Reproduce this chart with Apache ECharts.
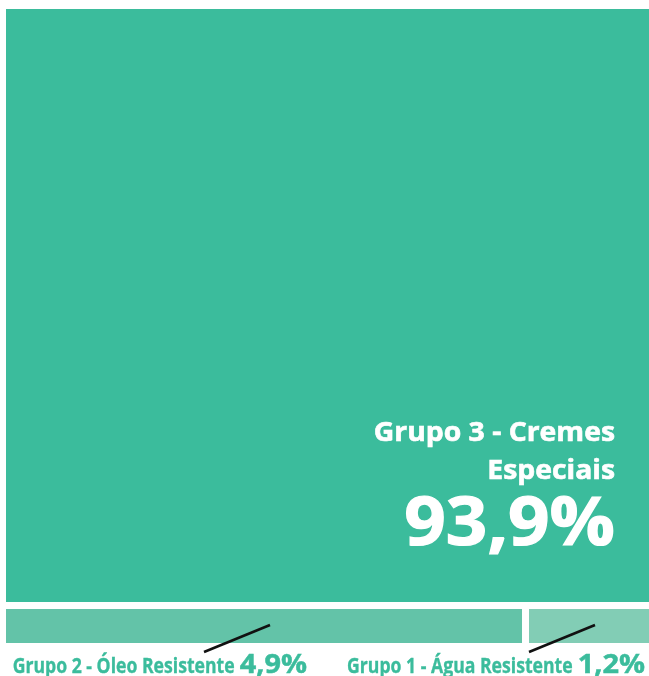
<!DOCTYPE html>
<html>
<head>
<meta charset="utf-8">
<script src="https://cdn.jsdelivr.net/npm/echarts@6/dist/echarts.min.js"></script>
<style>
  html, body { margin: 0; padding: 0; background: #ffffff; }
  #chart { width: 649px; height: 676px; }
</style>
</head>
<body>
<div id="chart"></div>
<script>
// Share of each product group (%)
const groupNames = ['Grupo 3 - Cremes\nEspeciais', 'Grupo 2 - Óleo Resistente', 'Grupo 1 - Água Resistente'];
const groupShares = [93.9, 4.9, 1.2];
const shareLabels = ['93,9%', '4,9%', '1,2%'];

const fills = ['#3bbc9c', '#63c3a8', '#82cdb5'];
const labelGreen = '#3bbc9c';
const FONT = '"Open Sans", "Noto Sans", sans-serif';

// Main group takes the upper band; the two minor groups split the bottom strip
const minorTotal = groupShares[1] + groupShares[2];
const splitX = groupShares[1] / minorTotal * 100;
const blocks = [
  [0, 100, minorTotal, 100, 0],
  [0, splitX, 0, minorTotal, 1],
  [splitX, 100, 0, minorTotal, 2]
];

const measureCtx = document.createElement('canvas').getContext('2d');
function textWidth(str, font) {
  measureCtx.font = font;
  return measureCtx.measureText(str).width;
}

// Right-aligned text anchored at (x, y), optionally stretched around the anchor
function label(str, x, y, font, fill, sx, sy, weightStroke) {
  return {
    type: 'text',
    x: x, y: y,
    scaleX: sx, scaleY: sy,
    style: {
      text: str, x: 0, y: 0, align: 'right', verticalAlign: 'middle', fill: fill, font: font,
      stroke: weightStroke ? fill : null, lineWidth: weightStroke || 0
    }
  };
}

function renderItem(params, api) {
  const i = api.value(4);
  const tl = api.coord([api.value(0), api.value(3)]);
  const br = api.coord([api.value(1), api.value(2)]);
  let x0 = tl[0], y0 = tl[1], x1 = br[0], y1 = br[1];
  if (i === 0) { y1 -= 2.3; } else { y0 += 4.7; }
  if (i === 1) { x1 -= 0.5; }
  if (i === 2) { x0 += 6.5; }

  const children = [{
    type: 'rect',
    shape: { x: x0, y: y0, width: x1 - x0, height: y1 - y0 },
    style: { fill: fills[i] }
  }];

  if (i === 0) {
    const lines = groupNames[0].split('\n');
    const nameFont = 'bold 26px ' + FONT;
    const ax = x1 - 34;
    children.push(label(lines[0], ax, y1 - 168.5, nameFont, '#ffffff', 1.09, 1.0, 0.6));
    children.push(label(lines[1], ax, y1 - 130, nameFont, '#ffffff', 1.09, 1.0, 0.6));
    children.push(label(shareLabels[0], ax, y1 - 75.5, 'bold 66px ' + FONT, '#ffffff', 1.1, 1.0, 1.2));
  } else {
    const cx = (x0 + x1) / 2;
    const lx = cx + 6, ly = y0 + 16;
    children.push({
      type: 'line',
      shape: { x1: lx, y1: ly, x2: lx - 66, y2: ly + 27 },
      style: { stroke: '#111111', lineWidth: 2.6 }
    });
    const rightEdge = i === 1 ? 307 : 645;
    const pctFont = 'bold 27px ' + FONT;
    const pctScaleX = 1.07;
    const pctW = textWidth(shareLabels[i], pctFont) * pctScaleX;
    children.push(label(shareLabels[i], rightEdge, 665.1, pctFont, labelGreen, pctScaleX, 1.0, 0.5));
    children.push(label(groupNames[i], rightEdge - pctW - 5, 666.8, 'bold 18px ' + FONT, labelGreen, 0.98, 1.16, 0.3));
  }
  return { type: 'group', children: children };
}

const chart = echarts.init(document.getElementById('chart'), null, { renderer: 'canvas' });
chart.setOption({
  animation: false,
  backgroundColor: '#ffffff',
  grid: { left: 6, right: 0, top: 9, bottom: 33 },
  xAxis: { type: 'value', min: 0, max: 100, show: false },
  yAxis: { type: 'value', min: 0, max: 100, show: false },
  series: [{
    type: 'custom',
    renderItem: renderItem,
    data: blocks,
    clip: false
  }]
});
</script>
</body>
</html>
